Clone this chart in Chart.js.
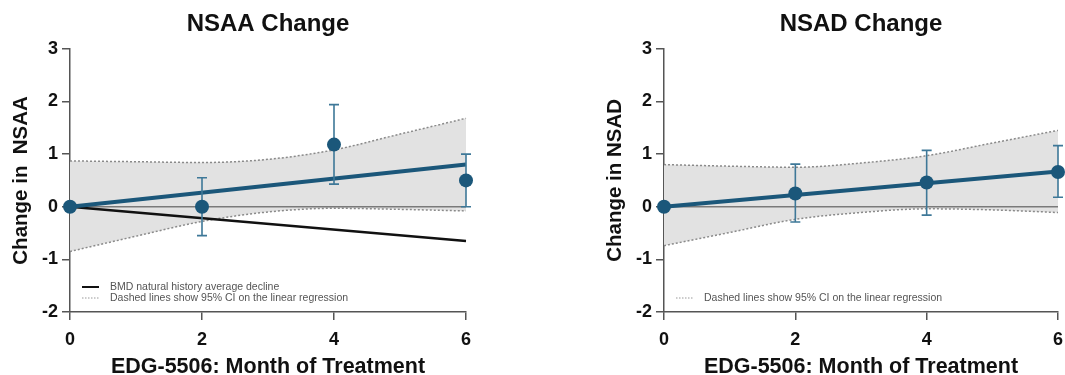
<!DOCTYPE html>
<html>
<head>
<meta charset="utf-8">
<script src="https://cdn.jsdelivr.net/npm/chart.js@4.4.0/dist/chart.umd.min.js"></script>
<style>
  body { margin: 0; background: #fff; }
  canvas { position: absolute; top: 0; }
  #nsaa { left: 0; }
  #nsad { left: 594px; }
</style>
</head>
<body>
<canvas id="nsaa" width="500" height="375"></canvas>
<canvas id="nsad" width="471" height="375"></canvas>
<script>
// months and shared x grids
const months = [0, 2, 4, 6];
const fitX = [0, 6];
const ciX = [0, 1, 2, 3, 4, 5, 6];
const yTicks = [-2, -1, 0, 1, 2, 3];

// NSAA panel
const nsaaMean = [0, 0, 1.18, 0.5];
const nsaaErrLow = [0, -0.55, 0.43, 0];
const nsaaErrHigh = [0, 0.55, 1.94, 1.0];
const nsaaFit = [0, 0.8];
const nsaaBmd = [0, -0.65];
const nsaaCiUpper = [0.87, 0.855, 0.84, 0.9, 1.08, 1.38, 1.68];
const nsaaCiLower = [-0.85, -0.56, -0.28, -0.1, -0.03, -0.05, -0.08];

// NSAD panel
const nsadMean = [0, 0.25, 0.46, 0.66];
const nsadErrLow = [0, -0.29, -0.16, 0.18];
const nsadErrHigh = [0, 0.81, 1.07, 1.16];
const nsadFit = [0, 0.67];
const nsadCiUpper = [0.8, 0.77, 0.75, 0.83, 0.97, 1.21, 1.45];
const nsadCiLower = [-0.74, -0.49, -0.24, -0.11, -0.04, -0.06, -0.11];

const FONT = "'Liberation Sans', Arial, sans-serif";
const BLUE = '#1b577a';
const ERR_BLUE = '#3e7898';

const pts = (xs, ys) => xs.map((x, i) => ({ x: x, y: ys[i] }));

// error bars, drawn just before the mean markers
const errorBars = {
  id: 'errorBars',
  beforeDatasetDraw(chart, args, opts) {
    if (chart.data.datasets[args.index].label !== 'mean') return;
    const { ctx, scales: { x, y } } = chart;
    ctx.save();
    ctx.strokeStyle = ERR_BLUE;
    ctx.lineWidth = 1.6;
    opts.x.forEach((m, i) => {
      if (opts.low[i] === opts.high[i]) return;
      const px = x.getPixelForValue(m);
      const lo = y.getPixelForValue(opts.low[i]);
      const hi = y.getPixelForValue(opts.high[i]);
      ctx.beginPath();
      ctx.moveTo(px, lo); ctx.lineTo(px, hi);
      ctx.moveTo(px - 5, lo); ctx.lineTo(px + 5, lo);
      ctx.moveTo(px - 5, hi); ctx.lineTo(px + 5, hi);
      ctx.stroke();
    });
    ctx.restore();
  }
};

// small legend inside the plot, bottom left
const innerLegend = {
  id: 'innerLegend',
  afterDraw(chart, args, opts) {
    const { ctx, chartArea } = chart;
    ctx.save();
    ctx.font = '10.5px ' + FONT;
    ctx.fillStyle = '#555';
    ctx.textBaseline = 'middle';
    let yy = chartArea.bottom - 14 - 11 * (opts.items.length - 1);
    opts.items.forEach(item => {
      const x0 = chartArea.left + 12;
      ctx.beginPath();
      ctx.strokeStyle = item.color;
      ctx.lineWidth = item.width;
      ctx.setLineDash(item.dash);
      ctx.moveTo(x0, yy); ctx.lineTo(x0 + 17, yy);
      ctx.stroke();
      ctx.setLineDash([]);
      ctx.fillText(item.text, x0 + 28, yy);
      yy += 11;
    });
    ctx.restore();
  }
};

function makeChart(id, cfg) {
  const datasets = [
    { label: 'zero', data: pts(fitX, [0, 0]), showLine: true, borderColor: '#7a7a7a',
      borderWidth: 1.5, pointRadius: 0, order: 3 },
    { label: 'ciUpper', data: pts(ciX, cfg.upper), showLine: true, borderColor: '#8a8a8a',
      borderWidth: 1.5, borderDash: [2, 2], pointRadius: 0, cubicInterpolationMode: 'monotone',
      fill: '+1', backgroundColor: '#e2e2e2', order: 5 },
    { label: 'ciLower', data: pts(ciX, cfg.lower), showLine: true, borderColor: '#8a8a8a',
      borderWidth: 1.5, borderDash: [2, 2], pointRadius: 0, cubicInterpolationMode: 'monotone',
      fill: false, order: 4 }
  ];
  if (cfg.bmd) {
    datasets.push({ label: 'bmd', data: pts(fitX, cfg.bmd), showLine: true, borderColor: '#111',
      borderWidth: 2.5, pointRadius: 0, order: 2 });
  }
  datasets.push(
    { label: 'fit', data: pts(fitX, cfg.fit), showLine: true, borderColor: BLUE,
      borderWidth: 4, pointRadius: 0, order: 1 },
    { label: 'mean', data: pts(months, cfg.mean), showLine: false, pointRadius: 7,
      pointBackgroundColor: BLUE, pointBorderColor: BLUE, pointBorderWidth: 0, order: 0 }
  );
  datasets.forEach(d => { d.clip = false; });

  return new Chart(document.getElementById(id).getContext('2d'), {
    type: 'scatter',
    data: { datasets: datasets },
    plugins: [errorBars, innerLegend],
    options: {
      responsive: false,
      animation: false,
      events: [],
      layout: { padding: { left: 0, right: cfg.padRight, top: 0, bottom: 0 } },
      plugins: {
        legend: { display: false },
        tooltip: { enabled: false },
        title: {
          display: true, text: cfg.title, color: '#111', fullSize: false,
          font: { family: FONT, size: 24, weight: 'bold', lineHeight: 1.2 },
          padding: { top: 10, bottom: 10 }
        },
        errorBars: { x: months, low: cfg.errLow, high: cfg.errHigh },
        innerLegend: { items: cfg.legend }
      },
      scales: {
        x: {
          type: 'linear', min: 0, max: 6,
          afterBuildTicks: s => { s.ticks = months.map(v => ({ value: v })); },
          afterFit: s => { s.height = 63; s.paddingLeft = 0; s.paddingRight = 0; },
          grid: { drawOnChartArea: false, drawTicks: true, tickLength: 8, color: '#555', lineWidth: 1.5 },
          border: { color: '#555', width: 1.5 },
          ticks: { color: '#111', padding: 9, font: { family: FONT, size: 18, weight: 'bold', lineHeight: 1.2 } },
          title: {
            display: true, text: 'EDG-5506: Month of Treatment', color: '#111',
            font: { family: FONT, size: 21.5, weight: 'bold', lineHeight: 0.7 }, padding: { top: 0, bottom: 0 }
          }
        },
        y: {
          type: 'linear', min: -2, max: 3,
          afterBuildTicks: s => { s.ticks = yTicks.map(v => ({ value: v })); },
          afterFit: s => { s.width = 70; s.paddingTop = 0; s.paddingBottom = 0; },
          grid: { drawOnChartArea: false, drawTicks: true, tickLength: 8, color: '#555', lineWidth: 1.5 },
          border: { color: '#555', width: 1.5 },
          ticks: { color: '#111', padding: 4, font: { family: FONT, size: 18, weight: 'bold' } },
          title: {
            display: true, text: cfg.yTitle, color: '#111',
            font: { family: FONT, size: 20.5, weight: 'bold', lineHeight: 1.2 }, padding: { top: 9, bottom: 0 }
          }
        }
      }
    }
  });
}

makeChart('nsaa', {
  title: 'NSAA Change', yTitle: 'Change in  NSAA', padRight: 34,
  mean: nsaaMean, errLow: nsaaErrLow, errHigh: nsaaErrHigh,
  fit: nsaaFit, bmd: nsaaBmd, upper: nsaaCiUpper, lower: nsaaCiLower,
  legend: [
    { text: 'BMD natural history average decline', color: '#111', width: 2, dash: [] },
    { text: 'Dashed lines show 95% CI on the linear regression', color: '#999', width: 1, dash: [1.5, 1.5] }
  ]
});

makeChart('nsad', {
  title: 'NSAD Change', yTitle: 'Change in NSAD', padRight: 6,
  mean: nsadMean, errLow: nsadErrLow, errHigh: nsadErrHigh,
  fit: nsadFit, upper: nsadCiUpper, lower: nsadCiLower,
  legend: [
    { text: 'Dashed lines show 95% CI on the linear regression', color: '#999', width: 1, dash: [1.5, 1.5] }
  ]
});
</script>
</body>
</html>
